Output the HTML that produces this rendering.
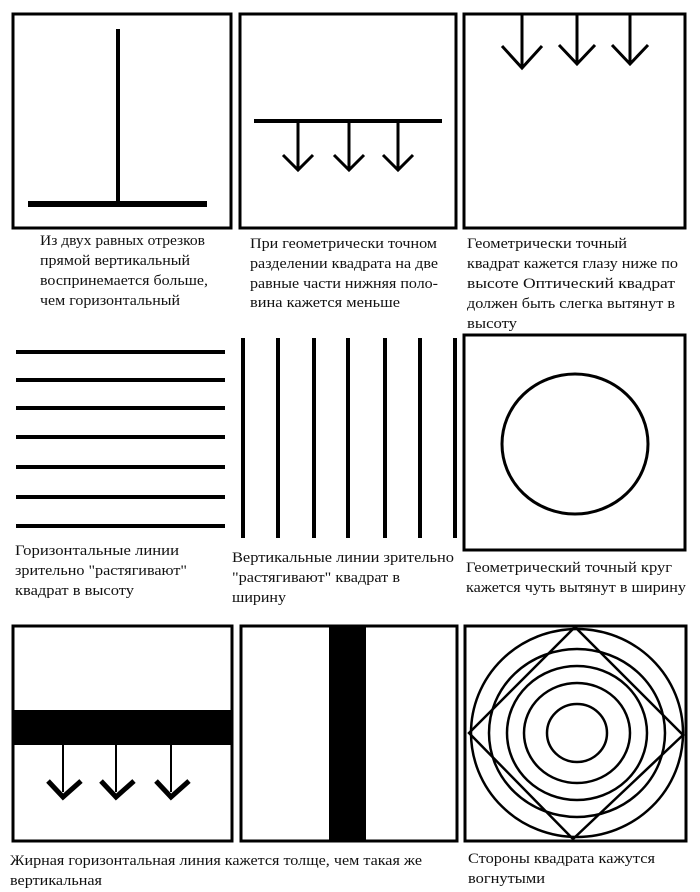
<!DOCTYPE html>
<html><head><meta charset="utf-8"><style>
html,body{margin:0;padding:0;background:#fff}
svg{display:block}
text{font-family:"Liberation Serif",serif;font-size:14.5px;fill:#111}
</style></head><body>
<svg width="700" height="892" viewBox="0 0 700 892" xmlns="http://www.w3.org/2000/svg">
<g fill="none" stroke="#000">
<rect x="13" y="14" width="218" height="214" stroke-width="3"/>
<line x1="118" y1="29" x2="118" y2="203" stroke-width="4"/>
<line x1="28" y1="204" x2="207" y2="204" stroke-width="6"/>

<rect x="240" y="14" width="216" height="214" stroke-width="3"/>
<line x1="254" y1="121" x2="442" y2="121" stroke-width="4"/>
<g stroke-width="3">
<line x1="298" y1="121" x2="298" y2="168"/><polyline points="283,155 298,170 313,155"/>
<line x1="349" y1="121" x2="349" y2="168"/><polyline points="334,155 349,170 364,155"/>
<line x1="398" y1="121" x2="398" y2="168"/><polyline points="383,155 398,170 413,155"/>
</g>

<rect x="464" y="14" width="221" height="214" stroke-width="3"/>
<g stroke-width="3">
<line x1="522" y1="14" x2="522" y2="66"/><polyline points="502,46 522,68 542,46"/>
<line x1="577" y1="14" x2="577" y2="64"/><polyline points="559,45 577,64 595,45"/>
<line x1="630" y1="14" x2="630" y2="64"/><polyline points="612,45 630,64 648,45"/>
</g>

<g stroke-width="4">
<line x1="16" y1="352" x2="225" y2="352"/>
<line x1="16" y1="380" x2="225" y2="380"/>
<line x1="16" y1="408" x2="225" y2="408"/>
<line x1="16" y1="437" x2="225" y2="437"/>
<line x1="16" y1="467" x2="225" y2="467"/>
<line x1="16" y1="497" x2="225" y2="497"/>
<line x1="16" y1="526" x2="225" y2="526"/>
<line x1="243" y1="338" x2="243" y2="538"/>
<line x1="278" y1="338" x2="278" y2="538"/>
<line x1="314" y1="338" x2="314" y2="538"/>
<line x1="348" y1="338" x2="348" y2="538"/>
<line x1="385" y1="338" x2="385" y2="538"/>
<line x1="420" y1="338" x2="420" y2="538"/>
<line x1="455" y1="338" x2="455" y2="538"/>
</g>
<rect x="464" y="335" width="221" height="215" stroke-width="3"/>
<ellipse cx="575" cy="444" rx="73" ry="70" stroke-width="3"/>

<rect x="13" y="626" width="219" height="215" stroke-width="3"/>
<rect x="241" y="626" width="216" height="215" stroke-width="3"/>
<rect x="465" y="626" width="221" height="215" stroke-width="3"/>
</g>
<rect x="13" y="710" width="219" height="35" fill="#000"/>
<rect x="329" y="626" width="37" height="215" fill="#000"/>
<g fill="none" stroke="#000">
<g stroke-width="2">
<line x1="63" y1="745" x2="63" y2="792"/>
<line x1="116" y1="745" x2="116" y2="792"/>
<line x1="171" y1="745" x2="171" y2="792"/>
</g>
<g stroke-width="5">
<polyline points="48,781 63,797 81,781"/>
<polyline points="101,781 116,797 134,781"/>
<polyline points="156,781 171,797 189,781"/>
</g>
<g stroke-width="2.5">
<ellipse cx="577" cy="733" rx="30" ry="29"/>
<ellipse cx="577" cy="733" rx="53" ry="50"/>
<ellipse cx="577" cy="733" rx="70" ry="67"/>
<ellipse cx="577" cy="733" rx="88" ry="84"/>
<ellipse cx="577" cy="733" rx="106" ry="104"/>
<polygon points="575,627 683,735 573,839 469,733"/>
</g>
</g>

<text x="40" y="245" textLength="165" lengthAdjust="spacingAndGlyphs">Из двух равных отрезков</text>
<text x="40" y="265" textLength="150" lengthAdjust="spacingAndGlyphs">прямой вертикальный</text>
<text x="40" y="285" textLength="168" lengthAdjust="spacingAndGlyphs">воспринемается больше,</text>
<text x="40" y="305" textLength="140" lengthAdjust="spacingAndGlyphs">чем горизонтальный</text>

<text x="250" y="248" textLength="187" lengthAdjust="spacingAndGlyphs">При геометрически точном</text>
<text x="250" y="268" textLength="188" lengthAdjust="spacingAndGlyphs">разделении квадрата на две</text>
<text x="250" y="288" textLength="188" lengthAdjust="spacingAndGlyphs">равные части нижняя поло-</text>
<text x="250" y="307" textLength="150" lengthAdjust="spacingAndGlyphs">вина кажется  меньше</text>

<text x="467" y="248" textLength="160" lengthAdjust="spacingAndGlyphs">Геометрически точный</text>
<text x="467" y="268" textLength="211" lengthAdjust="spacingAndGlyphs">квадрат кажется глазу ниже по</text>
<text x="467" y="288" textLength="208" lengthAdjust="spacingAndGlyphs">высоте  Оптический квадрат</text>
<text x="467" y="308" textLength="208" lengthAdjust="spacingAndGlyphs">должен быть слегка вытянут в</text>
<text x="467" y="328" textLength="50" lengthAdjust="spacingAndGlyphs">высоту</text>

<text x="15" y="555" textLength="164" lengthAdjust="spacingAndGlyphs">Горизонтальные линии</text>
<text x="15" y="575" textLength="172" lengthAdjust="spacingAndGlyphs">зрительно "растягивают"</text>
<text x="15" y="595" textLength="119" lengthAdjust="spacingAndGlyphs">квадрат в высоту</text>

<text x="232" y="562" textLength="222" lengthAdjust="spacingAndGlyphs">Вертикальные линии зрительно</text>
<text x="232" y="582" textLength="168" lengthAdjust="spacingAndGlyphs">"растягивают" квадрат в</text>
<text x="232" y="602" textLength="54" lengthAdjust="spacingAndGlyphs">ширину</text>

<text x="466" y="572" textLength="206" lengthAdjust="spacingAndGlyphs">Геометрический точный круг</text>
<text x="466" y="592" textLength="220" lengthAdjust="spacingAndGlyphs">кажется чуть вытянут в ширину</text>

<text x="10" y="865" textLength="412" lengthAdjust="spacingAndGlyphs">Жирная горизонтальная линия кажется толще, чем такая же</text>
<text x="10" y="885" textLength="92" lengthAdjust="spacingAndGlyphs">вертикальная</text>

<text x="468" y="863" textLength="187" lengthAdjust="spacingAndGlyphs">Стороны квадрата кажутся</text>
<text x="468" y="883" textLength="77" lengthAdjust="spacingAndGlyphs">вогнутыми</text>
</svg>
</body></html>
